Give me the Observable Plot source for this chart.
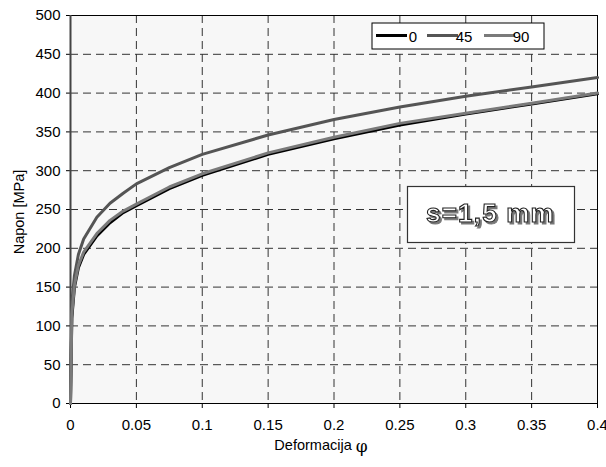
<!DOCTYPE html>
<html>
<head>
<meta charset="utf-8">
<script src="https://cdn.jsdelivr.net/npm/d3@7"></script>
<script src="https://cdn.jsdelivr.net/npm/@observablehq/plot@0.6"></script>
<style>
  html, body { margin: 0; padding: 0; background: #fff; }
  #chart { position: relative; width: 606px; height: 467px; }
</style>
</head>
<body>
<div id="chart"></div>
<script>
// Deformation values (x) and stress values (MPa) for each orientation
const strain = [0, 0.001, 0.003, 0.006, 0.01, 0.02, 0.03, 0.04, 0.05, 0.075, 0.1, 0.15, 0.2, 0.25, 0.3, 0.35, 0.4];
const stress0  = [0, 110, 150, 175, 192, 216, 233, 246, 255, 277, 294, 321, 341, 359, 373, 386, 399];
const stress45 = [0, 130, 165, 192, 212, 240, 258, 271, 283, 304, 321, 346, 366, 382, 396, 408, 420];
const stress90 = [0, 115, 152, 178, 195, 219, 236, 248, 257, 279, 296, 323, 343, 361, 374, 387, 400];
const seriesNames = ["0", "45", "90"];
const seriesColors = ["#000000", "#555555", "#7a7a7a"];
const xTicks = [0, 0.05, 0.1, 0.15, 0.2, 0.25, 0.3, 0.35, 0.4];
const yTicks = [0, 50, 100, 150, 200, 250, 300, 350, 400, 450, 500];
const xLabel = "Deformacija ";
const xLabelSymbol = "φ";
const yLabel = "Napon [MPa]";
const annotation = "s=1,5 mm";

const allSeries = [stress0, stress45, stress90];
const data = [];
allSeries.forEach((arr, si) => arr.forEach((v, i) => data.push({s: seriesNames[si], x: strain[i], y: v})));

const font = "'Liberation Sans', Arial, sans-serif";

const plot = Plot.plot({
  width: 606,
  height: 467,
  marginLeft: 70,
  marginRight: 9,
  marginTop: 15,
  marginBottom: 64,
  style: {fontFamily: font, fontSize: "15px", color: "#000", background: "#fff", overflow: "visible"},
  x: {domain: [0, 0.4], ticks: xTicks, tickFormat: d => String(d), label: null},
  y: {domain: [0, 500], ticks: yTicks, label: null},
  color: {domain: seriesNames, range: seriesColors},
  marks: [
    Plot.frame({fill: "#f7f7f7", stroke: null}),
    Plot.gridX(xTicks.slice(1, -1), {stroke: "#333", strokeOpacity: 1, strokeDasharray: "8,5", strokeWidth: 1}),
    Plot.gridY(yTicks.slice(1, -1), {stroke: "#333", strokeOpacity: 1, strokeDasharray: "8,5", strokeWidth: 1}),
    Plot.frame({stroke: "#000", strokeWidth: 1}),
    Plot.axisX({ticks: xTicks, tickFormat: d => String(d), tickSize: 5, tickPadding: 11, fontSize: 15, label: null}),
    Plot.axisY({ticks: yTicks, tickSize: 4, tickPadding: 6, fontSize: 15, label: null}),
    Plot.ruleX([0], {stroke: "#444", strokeWidth: 2}),
    Plot.ruleY([0], {stroke: "#000", strokeWidth: 1}),
    Plot.line(data, {x: "x", y: "y", z: "s", stroke: "s", strokeWidth: 3, strokeLinejoin: "round"})
  ]
});

const chart = document.getElementById("chart");
chart.appendChild(plot);

const svg = d3.select(plot);
const defs = svg.append("defs");
const f = defs.append("filter").attr("id", "tshadow").attr("x", "-10%").attr("y", "-20%").attr("width", "130%").attr("height", "150%");
f.append("feDropShadow").attr("dx", 2).attr("dy", 2).attr("stdDeviation", 0.6).attr("flood-color", "#777").attr("flood-opacity", 1);

// Axis titles
svg.append("text")
  .attr("transform", "translate(24,212) rotate(-90)")
  .attr("text-anchor", "middle")
  .attr("font-family", font).attr("font-size", 14.5)
  .text(yLabel);
const xl = svg.append("text")
  .attr("x", 321).attr("y", 450)
  .attr("text-anchor", "middle")
  .attr("font-family", font).attr("font-size", 14.5);
xl.append("tspan").text(xLabel);
xl.append("tspan").attr("font-family", "'DejaVu Serif', serif").attr("font-size", 17).attr("dy", 2).text(xLabelSymbol);

// Legend
const lg = svg.append("g").attr("transform", "translate(372,23)");
lg.append("rect").attr("width", 172).attr("height", 26).attr("fill", "#fff").attr("stroke", "#000");
const itemX = [4, 55, 112];
seriesNames.forEach((n, i) => {
  lg.append("line").attr("x1", itemX[i]).attr("x2", itemX[i] + 31).attr("y1", 12.5).attr("y2", 12.5)
    .attr("stroke", seriesColors[i]).attr("stroke-width", 3);
  lg.append("text").attr("x", itemX[i] + 37).attr("y", 18.5)
    .attr("font-family", font).attr("font-size", 15).text(n);
});

// Annotation box
const ab = svg.append("g").attr("transform", "translate(407.5,186.5)");
ab.append("rect").attr("width", 167).attr("height", 56).attr("fill", "#fff").attr("stroke", "#333").attr("stroke-width", 1.2);
ab.append("text").attr("x", 83).attr("y", 35.5).attr("text-anchor", "middle")
  .attr("font-family", font).attr("font-weight", "bold").attr("font-size", 26).attr("letter-spacing", "1.2px")
  .attr("fill", "#fff").attr("stroke", "#222").attr("stroke-width", 1.1)
  .attr("filter", "url(#tshadow)")
  .text(annotation);
</script>
</body>
</html>
